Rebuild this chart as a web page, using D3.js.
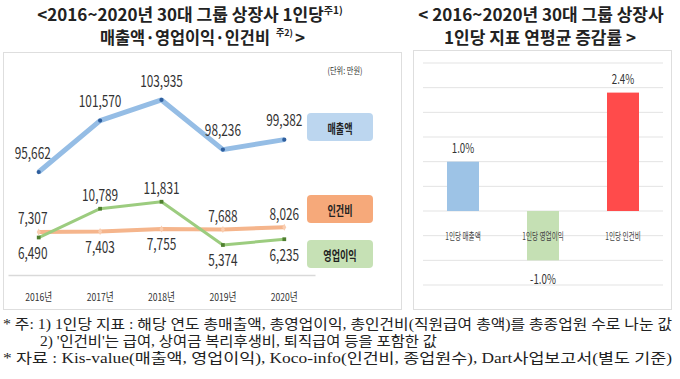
<!DOCTYPE html>
<html>
<head>
<meta charset="utf-8">
<script src="https://cdn.jsdelivr.net/npm/d3@7"></script>
<style>
  body { margin: 0; background: #fff; }
  text { font-family: "Noto Sans CJK KR", "Noto Sans", sans-serif; fill: #222; }
</style>
</head>
<body>
<div id="chart"></div>
<script>
// data
var years = ["2016년", "2017년", "2018년", "2019년", "2020년"];
var sales = [95662, 101570, 103935, 98236, 99382];      // 매출액
var labor = [7307, 7403, 7755, 7688, 8026];             // 인건비
var profit = [6490, 10789, 11831, 5374, 6235];          // 영업이익
var rateCats = ["1인당 매출액", "1인당 영업이익", "1인당 인건비"];
var rates = [1.0, -1.0, 2.4];
var rateTicks = [-1.5, -1.0, -0.5, 0, 0.5, 1.0, 1.5, 2.0, 2.5, 3.0];

var W = 680, H = 379;
var svg = d3.select("#chart").append("svg")
    .attr("width", W)
    .attr("height", H);

var fmt = d3.format(",");

// squeezed text helper (the source font is a narrow one)
function label(g, x, y, txt, size, sx, weight, color) {
    return g.append("text")
        .attr("transform", "translate(" + x + "," + y + ") scale(" + sx + ",1)")
        .attr("text-anchor", "middle")
        .attr("dominant-baseline", "central")
        .style("font-size", size + "px")
        .style("font-weight", weight || "normal")
        .style("fill", color || "#222")
        .text(txt);
}

// panels
svg.append("rect").attr("x", 3.5).attr("y", 52.5).attr("width", 398).attr("height", 257)
    .attr("fill", "none").attr("stroke", "#dedede");
svg.append("rect").attr("x", 413.5).attr("y", 50.5).attr("width", 258).attr("height", 259)
    .attr("fill", "none").attr("stroke", "#dedede");

// titles
var t1 = svg.append("text").attr("x", 190).attr("y", 21).attr("text-anchor", "middle")
    .style("font-size", "17px").style("font-weight", "bold");
t1.append("tspan").text("<2016~2020년 30대 그룹 상장사 1인당");
t1.append("tspan").attr("dy", -7).style("font-size", "10px").text("주1)");

svg.append("text").attr("x", 100).attr("y", 44)
    .attr("textLength", 170).attr("lengthAdjust", "spacingAndGlyphs")
    .style("font-size", "17px").style("font-weight", "bold")
    .text("매출액·영업이익·인건비");
svg.append("text").attr("x", 276).attr("y", 36)
    .style("font-size", "9px").style("font-weight", "bold").text("주2)");
svg.append("text").attr("x", 295).attr("y", 44)
    .style("font-size", "17px").style("font-weight", "bold").text(">");

svg.append("text").attr("x", 541).attr("y", 21).attr("text-anchor", "middle")
    .style("font-size", "17px").style("font-weight", "bold")
    .text("< 2016~2020년 30대 그룹 상장사");
svg.append("text").attr("x", 540).attr("y", 44).attr("text-anchor", "middle")
    .style("font-size", "17px").style("font-weight", "bold")
    .text("1인당 지표 연평균 증감률 >");

// ---------- left: line chart ----------
var g = svg.append("g");
var x = d3.scaleBand().domain(years).range([8, 315]);
var cx = function(i) { return x(years[i]) + x.bandwidth() / 2; };
var ySales = d3.scaleLinear().domain([95000, 105000]).range([177.8, 90.7]);
var yLow = d3.scaleLinear().domain([5000, 12000]).range([247.5, 200.6]);

// axis
var axis = g.append("g").attr("transform", "translate(0,275)")
    .call(d3.axisBottom(x).tickSize(0).tickFormat(""));
axis.select(".domain").attr("stroke", "#d9d9d9").attr("stroke-width", 1.5);
years.forEach(function(d, i) {
    label(g, cx(i), 297, d, 11, 0.78, "normal", "#333");
});

label(g, 345, 70, "(단위: 만원)", 9, 0.8, "normal", "#333");

// pos: label above ("up") or below ("down") the point, off: distance
function drawSeries(vals, yS, color, width, mColor, mShape, pos, off) {
    var line = d3.line()
        .x(function(d, i) { return cx(i); })
        .y(function(d) { return yS(d); });
    g.append("path").datum(vals)
        .attr("d", line)
        .attr("fill", "none")
        .attr("stroke", color)
        .attr("stroke-width", width)
        .attr("stroke-linejoin", "round");
    g.selectAll(null).data(vals).enter().append("path")
        .attr("transform", function(d, i) { return "translate(" + cx(i) + "," + yS(d) + ")"; })
        .attr("d", d3.symbol().type(mShape).size(14))
        .attr("fill", mColor);
    vals.forEach(function(v, i) {
        var dy = pos[i] === "up" ? -off : off;
        var dx = i === 0 ? -6 : 0;
        label(g, cx(i) + dx, yS(v) + dy, fmt(v), 16, 0.74, "normal", "#333");
    });
}

drawSeries(labor, yLow, "#f5b58c", 4, "#f9cdb0", d3.symbolDiamond,
    ["up", "down", "down", "up", "up"], 14.5);
drawSeries(profit, yLow, "#9ccc7f", 3, "#4f7f2f", d3.symbolSquare,
    ["down", "up", "up", "down", "down"], 14.5);
drawSeries(sales, ySales, "#95bde5", 5, "#2f5f9e", d3.symbolCircle,
    ["up", "up", "up", "up", "up"], 20);

// legend boxes
var legend = [
    {name: "매출액", y: 113, fill: "#bcd6ef"},
    {name: "인건비", y: 195, fill: "#f6a97a"},
    {name: "영업이익", y: 240, fill: "#c6e1b5"}
];
legend.forEach(function(d) {
    g.append("rect").attr("x", 307).attr("y", d.y).attr("width", 66).attr("height", 28)
        .attr("rx", 4).attr("fill", d.fill);
    label(g, 340, d.y + 14, d.name, 13, 0.7, "bold", "#222");
});

// ---------- right: bar chart ----------
var b = svg.append("g");
var xb = d3.scaleBand().domain(rateCats).range([423, 663]).paddingInner(0.6).paddingOuter(0.3);
var yb = d3.scaleLinear().domain([-1.5, 3.0]).range([285, 63]);

b.selectAll("line.grid").data(rateTicks).enter().append("line")
    .attr("class", "grid")
    .attr("x1", 423).attr("x2", 663)
    .attr("y1", function(d) { return yb(d); })
    .attr("y2", function(d) { return yb(d); })
    .attr("stroke", "#e3e3e3");

var barColors = ["#9dc3e6", "#c5e0b4", "#ff4b4b"];
b.selectAll("rect.bar").data(rates).enter().append("rect")
    .attr("class", "bar")
    .attr("x", function(d, i) { return xb(rateCats[i]); })
    .attr("width", xb.bandwidth())
    .attr("y", function(d) { return yb(Math.max(0, d)); })
    .attr("height", function(d) { return Math.abs(yb(d) - yb(0)); })
    .attr("fill", function(d, i) { return barColors[i]; });

rates.forEach(function(d, i) {
    var c = xb(rateCats[i]) + xb.bandwidth() / 2;
    var yy = d >= 0 ? yb(d) - 14 : yb(d) + 18;
    label(b, c, yy, d.toFixed(1) + "%", 13, 0.75, "normal", "#333");
    label(b, c, 235, rateCats[i], 10, 0.66, "normal", "#444");
});

// ---------- footnotes ----------
var notes = [
    {x: 3, y: 329, w: 669, t: "* 주: 1) 1인당 지표 : 해당 연도 총매출액, 총영업이익, 총인건비(직원급여 총액)를 총종업원 수로 나눈 값"},
    {x: 40, y: 346, w: 397, t: "2) '인건비'는 급여, 상여금 복리후생비, 퇴직급여 등을 포함한 값"},
    {x: 3, y: 363, w: 669, t: "* 자료 : Kis-value(매출액, 영업이익), Koco-info(인건비, 종업원수), Dart사업보고서(별도 기준)"}
];
notes.forEach(function(d) {
    svg.append("text")
        .attr("x", d.x).attr("y", d.y)
        .attr("textLength", d.w)
        .attr("lengthAdjust", "spacingAndGlyphs")
        .style("font-family", "'Liberation Serif', 'Noto Sans CJK KR', serif")
        .style("font-size", "14px")
        .style("fill", "#222")
        .text(d.t);
});
</script>
</body>
</html>
